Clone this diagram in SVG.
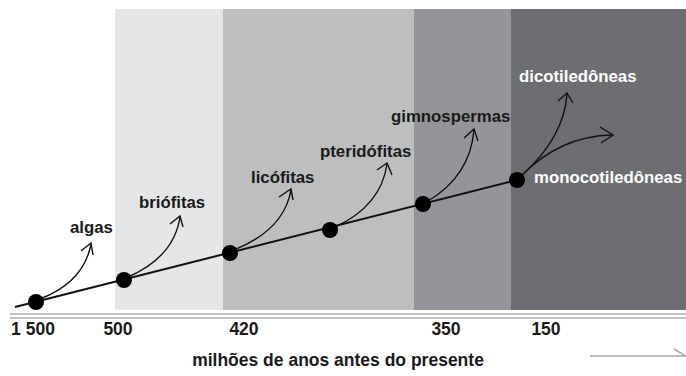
<svg xmlns="http://www.w3.org/2000/svg" width="686" height="376" viewBox="0 0 686 376">
<style>
.lbl{font-family:"Liberation Sans",Arial,sans-serif;font-weight:bold;font-size:16.8px;fill:#1a1a1a}
.wl{fill:#ffffff}
.ax{font-family:"Liberation Sans",Arial,sans-serif;font-weight:bold;font-size:17.5px;fill:#1a1a1a;text-anchor:middle}
.br{fill:none;stroke:#111;stroke-width:1.4}
.ah{fill:none;stroke:#111;stroke-width:1.4;stroke-linejoin:miter}
.dot{fill:#000}
</style>
<rect width="686" height="376" fill="#ffffff"/>
<g id="bands">
<rect x="115" y="9" width="108" height="301" fill="#e5e6e7"/>
<rect x="223" y="9" width="191" height="301" fill="#bdbec0"/>
<rect x="414" y="9" width="97" height="301" fill="#949598"/>
<rect x="511" y="9" width="175" height="301" fill="#6d6e71"/>
</g>
<g id="axis">
<line x1="10" y1="314" x2="686" y2="314" stroke="#a7a8aa" stroke-width="1.5"/>
<line x1="10" y1="318" x2="686" y2="318" stroke="#a7a8aa" stroke-width="1.5"/>
<text class="ax" x="33" y="335">1 500</text>
<text class="ax" x="118" y="335">500</text>
<text class="ax" x="244" y="335">420</text>
<text class="ax" x="446" y="335">350</text>
<text class="ax" x="546" y="335">150</text>
<text class="ax" x="338" y="366">milhões de anos antes do presente</text>
<line x1="590" y1="356" x2="686" y2="356" stroke="#a7a8aa" stroke-width="1.5"/>
<line x1="674" y1="349" x2="686" y2="356" stroke="#a7a8aa" stroke-width="1.5"/>
</g>
<g id="connectors">
<line x1="15" y1="307" x2="517" y2="180" stroke="#111" stroke-width="2"/>
<path class="br" d="M40 299 Q84 282 91 244"/>
<polyline class="ah" points="81,251 91,243 93,255"/>
<path class="br" d="M128 277 Q174 257 180 217"/>
<polyline class="ah" points="170,224 180,216 183,227"/>
<path class="br" d="M234 250 Q284 230 291 190"/>
<polyline class="ah" points="279,197 291,189 293,200"/>
<path class="br" d="M335 227 Q381 206 387 164"/>
<polyline class="ah" points="377,170 387,163 392,175"/>
<path class="br" d="M428 201 Q470 176 474 130"/>
<polyline class="ah" points="464,138 474,129 478,141"/>
<path class="br" d="M521 176 Q564 138 567 94"/>
<polyline class="ah" points="558,101 567,93 573,103"/>
<path class="br" d="M521 176 Q560 136 612 135"/>
<polyline class="ah" points="600,127 613,135 601,143"/>
</g>
<g id="n-algas"><circle class="dot" cx="36" cy="302" r="8"/><text class="lbl" x="70" y="233">algas</text></g>
<g id="n-briofitas"><circle class="dot" cx="124" cy="280" r="8"/><text class="lbl" x="139" y="208">briófitas</text></g>
<g id="n-licofitas"><circle class="dot" cx="230" cy="253" r="8"/><text class="lbl" x="251" y="183">licófitas</text></g>
<g id="n-pteridofitas"><circle class="dot" cx="330" cy="230" r="8"/><text class="lbl" x="320" y="157">pteridófitas</text></g>
<g id="n-gimnospermas"><circle class="dot" cx="423" cy="204" r="8"/><text class="lbl" x="391" y="122">gimnospermas</text></g>
<g id="n-angiospermas"><circle class="dot" cx="517" cy="180" r="8"/><text class="lbl wl" x="519" y="82">dicotiledôneas</text><text class="lbl wl" x="534" y="183">monocotiledôneas</text></g>
</svg>
